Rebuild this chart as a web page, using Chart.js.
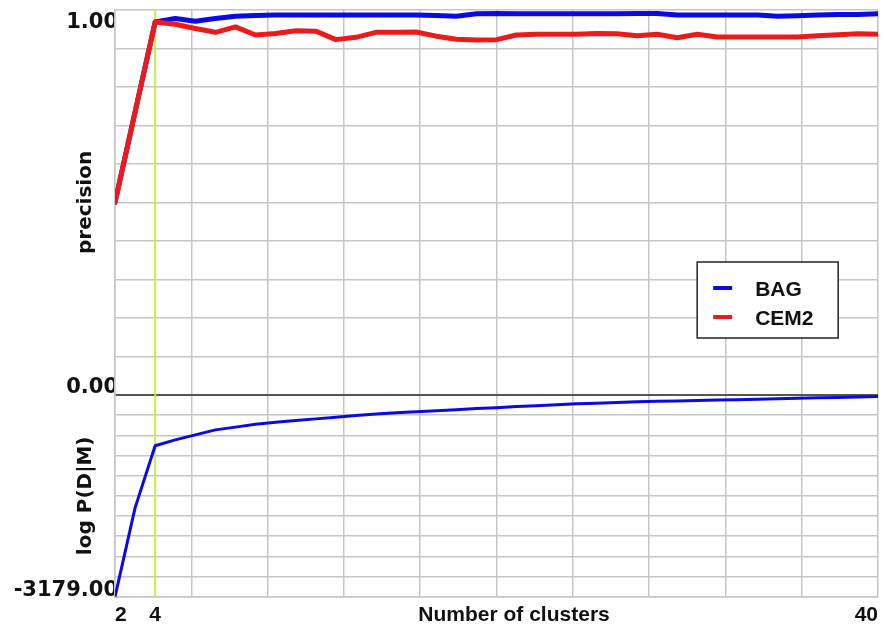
<!DOCTYPE html>
<html><head><meta charset="utf-8">
<script src="https://cdn.jsdelivr.net/npm/chart.js@4/dist/chart.umd.min.js"></script>
<style>html,body{margin:0;padding:0;background:#fff;overflow:hidden}canvas{display:block}</style>
</head><body>
<canvas id="c" width="884" height="630"></canvas>
<script>
// ---- data ----
const clusters = [2,3,4,5,6,7,8,9,10,11,12,13,14,15,16,17,18,19,20,21,22,23,24,25,26,27,28,29,30,31,32,33,34,35,36,37,38,39,40];
const bagPrecision = [0.500,0.735,0.969,0.978,0.971,0.978,0.984,0.986,0.987,0.987,0.987,0.987,0.987,0.987,0.987,0.987,0.986,0.984,0.990,0.991,0.990,0.990,0.990,0.990,0.990,0.990,0.991,0.991,0.987,0.987,0.987,0.987,0.987,0.984,0.985,0.987,0.988,0.988,0.990];
const cem2Precision = [0.500,0.735,0.969,0.963,0.952,0.942,0.956,0.935,0.939,0.946,0.945,0.923,0.929,0.942,0.942,0.943,0.932,0.924,0.922,0.923,0.935,0.937,0.937,0.937,0.939,0.938,0.933,0.937,0.928,0.937,0.930,0.930,0.930,0.930,0.930,0.933,0.936,0.938,0.937];
const logLikelihood = [-3179,-1779,-800,-708,-630,-551,-508,-461,-430,-405,-378,-351,-325,-303,-283,-266,-250,-233,-216,-201,-185,-170,-154,-140,-130,-120,-110,-102,-95,-88,-81,-75,-68,-61,-53,-47,-40,-33,-27];
const seriesNames = ['BAG','CEM2'];
const chosenClusters = 4;
const xLabelValues = [2, 4, 40];
const precisionRange = [0, 1];
const precisionTickLabels = ['1.00', '0.00'];
const logRange = [-3179, 0];
const logTickLabels = ['-3179.00'];
const xTitle = 'Number of clusters';
const yTitles = ['precision', 'log P(D|M)'];

// ---- styles ----
const BLUE = '#0a0ae6', RED = '#ee1a1a', LIME = '#c8ee4c';
const GRID = '#c6c6c6', DIVIDER = '#555555';
const ARIAL = '"Liberation Sans", Arial, sans-serif';
const DEJAVU = '"DejaVu Sans", sans-serif';

const pts = (ys) => clusters.map((x, i) => ({x, y: ys[i]}));
const evenTicks = (min, max, n) => { const t = []; for (let i = 0; i <= n; i++) t.push({value: min + (max - min) * i / n}); return t; };

const textPlugin = {
  id: 'panelText',
  afterDraw(chart) {
    const {ctx, chartArea: a, scales} = chart;
    const yP = scales.yP, yL = scales.yL;
    ctx.save();
    ctx.fillStyle = '#111';
    // y tick labels (clipped at the plot edge like the reference)
    ctx.save();
    ctx.beginPath(); ctx.rect(0, 0, a.left - 1, chart.height); ctx.clip();
    ctx.font = 'bold 21px ' + DEJAVU;
    ctx.textAlign = 'right'; ctx.textBaseline = 'alphabetic';
    ctx.fillText(precisionTickLabels[0], a.left + 3, yP.getPixelForValue(precisionRange[1]) + 18);
    ctx.fillText(precisionTickLabels[1], a.left + 3, yP.getPixelForValue(precisionRange[0]) - 2);
    ctx.fillText(logTickLabels[0], a.left + 3, yL.getPixelForValue(logRange[0]) - 1);
    ctx.restore();
    // y titles
    ctx.font = 'bold 20px ' + DEJAVU;
    ctx.textAlign = 'center'; ctx.textBaseline = 'middle';
    [[yP, yTitles[0]], [yL, yTitles[1]]].forEach(([s, t]) => {
      ctx.save();
      ctx.translate(a.left - 29, (s.top + s.bottom) / 2);
      ctx.rotate(-Math.PI / 2);
      ctx.fillText(t, 0, 0);
      ctx.restore();
    });
    // x title (same line as tick labels)
    ctx.font = 'bold 21px ' + ARIAL;
    ctx.textAlign = 'center'; ctx.textBaseline = 'alphabetic';
    ctx.fillText(xTitle, a.left + (a.right - a.left) * 0.523, a.bottom + 24);
    // legend
    const lx = a.left + (a.right - a.left) * 0.763, ly = 262, lw = 141, lh = 76;
    ctx.fillStyle = '#fff';
    ctx.fillRect(lx, ly, lw, lh);
    ctx.strokeStyle = '#222'; ctx.lineWidth = 1.5;
    ctx.strokeRect(lx, ly, lw, lh);
    ctx.font = 'bold 21px ' + ARIAL;
    ctx.textAlign = 'left';
    const legendColors = [BLUE, RED];
    seriesNames.forEach((name, i) => {
      const yy = ly + 26 + i * 29;
      ctx.strokeStyle = legendColors[i]; ctx.lineWidth = 4;
      ctx.beginPath(); ctx.moveTo(lx + 16, yy); ctx.lineTo(lx + 35, yy); ctx.stroke();
      ctx.fillStyle = '#111';
      ctx.fillText(name, lx + 58, yy + 8);
    });
    ctx.restore();
  }
};

new Chart(document.getElementById('c'), {
  type: 'line',
  data: {
    datasets: [
      {label: seriesNames[1], data: pts(cem2Precision), yAxisID: 'yP', borderColor: RED, borderWidth: 5, order: 0},
      {label: seriesNames[0], data: pts(bagPrecision), yAxisID: 'yP', borderColor: BLUE, borderWidth: 5, order: 1},
      {label: 'logP', data: pts(logLikelihood), yAxisID: 'yL', borderColor: BLUE, borderWidth: 3, order: 2},
      {label: 'k-top', data: [{x: chosenClusters, y: precisionRange[1]}, {x: chosenClusters, y: precisionRange[0]}], yAxisID: 'yP', borderColor: LIME, borderWidth: 2, order: 3},
      {label: 'k-bottom', data: [{x: chosenClusters, y: logRange[1]}, {x: chosenClusters, y: logRange[0]}], yAxisID: 'yL', borderColor: LIME, borderWidth: 2, order: 3}
    ]
  },
  options: {
    responsive: false,
    animation: false,
    devicePixelRatio: 1,
    parsing: true,
    layout: {padding: {left: 115, right: 5, top: 10, bottom: -4}},
    elements: {point: {radius: 0}, line: {tension: 0, borderJoinStyle: 'round', borderCapStyle: 'round'}},
    plugins: {legend: {display: false}, tooltip: {enabled: false}},
    scales: {
      x: {
        type: 'linear', min: clusters[0], max: clusters[clusters.length - 1],
        afterBuildTicks: (s) => {
          const t = evenTicks(s.min, s.max, 10);
          t.splice(1, 0, {value: chosenClusters});
          s.ticks = t;
        },
        ticks: {
          autoSkip: false, maxRotation: 0, align: 'inner', padding: 6, color: '#111',
          font: {family: ARIAL, size: 21, weight: 'bold'},
          callback: (v) => xLabelValues.includes(Math.round(v * 100) / 100) ? String(v) : ''
        },
        grid: {drawTicks: false, color: (c) => c.tick && c.tick.value === chosenClusters ? 'rgba(0,0,0,0)' : GRID, lineWidth: 1.5},
        border: {color: GRID, width: 1.5}
      },
      yL: {
        type: 'linear', position: 'left', stack: 'panels', stackWeight: 202,
        min: logRange[0], max: logRange[1],
        afterBuildTicks: (s) => { s.ticks = evenTicks(s.min, s.max, 10); },
        ticks: {display: false},
        grid: {drawTicks: false, color: (c) => c.tick && c.tick.value === logRange[1] ? DIVIDER : GRID, lineWidth: (c) => c.tick && c.tick.value === logRange[1] ? 2 : 1.5},
        border: {color: GRID, width: 1.5}
      },
      yP: {
        type: 'linear', position: 'left', stack: 'panels', stackWeight: 385,
        min: precisionRange[0], max: precisionRange[1],
        afterBuildTicks: (s) => { s.ticks = evenTicks(s.min, s.max, 10); },
        ticks: {display: false},
        grid: {drawTicks: false, color: (c) => c.tick && c.tick.value === precisionRange[0] ? DIVIDER : GRID, lineWidth: (c) => c.tick && c.tick.value === precisionRange[0] ? 2 : 1.5},
        border: {color: GRID, width: 1.5}
      }
    }
  },
  plugins: [textPlugin]
});
</script>
</body></html>
